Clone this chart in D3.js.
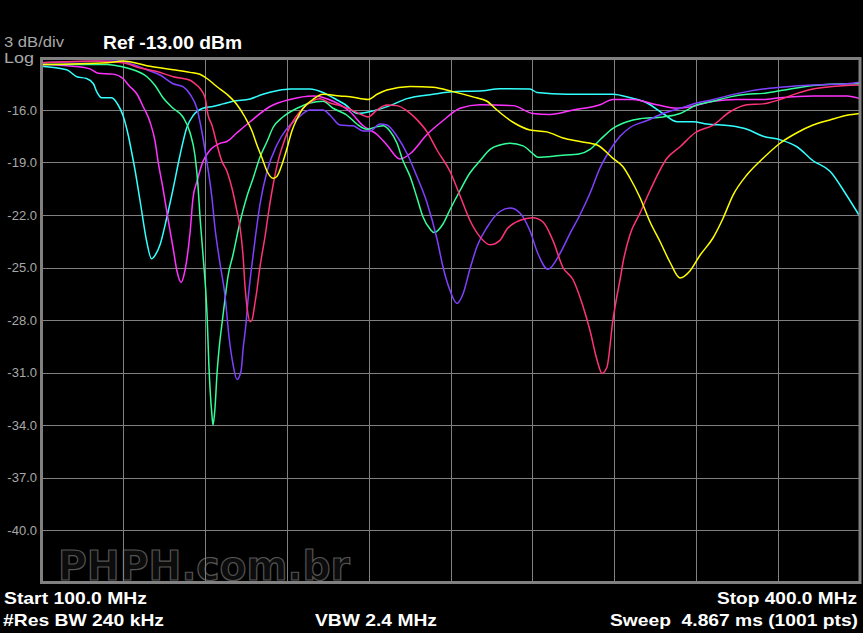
<!DOCTYPE html>
<html><head><meta charset="utf-8">
<script src="https://cdn.jsdelivr.net/npm/d3@7"></script>
<style>html,body{margin:0;padding:0;background:#000;overflow:hidden}</style>
</head><body><svg id="chart" width="863" height="633"></svg>
<script>
// ---- data ----
const freqStart = 100, freqStop = 400;          // MHz
const refLevel = -13, dbPerDiv = 3, nDiv = 10;  // dBm
const yTickValues = [-16, -19, -22, -25, -28, -31, -34, -37, -40];
const yTickLabels = ["-16.0", "-19.0", "-22.0", "-25.0", "-28.0", "-31.0", "-34.0", "-37.0", "-40.0"];
const headerTexts = ["3 dB/div", "Log", "Ref -13.00 dBm"];
const footerTexts = ["Start 100.0 MHz", "Stop 400.0 MHz", "#Res BW 240 kHz", "VBW 2.4 MHz", "Sweep  4.867 ms (1001 pts)"];
const watermark = "PHPH.com.br";

const seriesColors = ["#33ffff", "#ff33ff", "#33ff99", "#8040ff", "#ff3377", "#ffff00"];

const cyanTrace = [[100,-13.5],[109.4,-13.7],[113.1,-14.1],[116.7,-14.2],[119.2,-14.5],[120.4,-14.95],[122.2,-15.3],[125.9,-15.3],[128.2,-15.7],[130.0,-16.3],[131.9,-17.4],[133.2,-18.4],[134.4,-19.4],[136.3,-21.2],[138.7,-23.5],[140.5,-24.5],[141.8,-24.3],[143.6,-23.7],[146.0,-22.2],[148.4,-20.5],[150.9,-18.6],[153.4,-17.0],[155.8,-16.3],[159.3,-15.9],[163.0,-15.8],[166.7,-15.65],[170.3,-15.5],[176.6,-15.37],[181.3,-15.1],[186.4,-14.9],[191.2,-14.8],[198.5,-14.8],[203.3,-15.0],[207.0,-15.3],[211.5,-15.7],[215.8,-16.2],[221.6,-16.05],[227.8,-15.75],[234.1,-15.35],[243.6,-15.1],[249.8,-14.97],[261.9,-14.9],[268.1,-14.78],[279.1,-14.8],[281.7,-15.0],[292.7,-15.1],[304.8,-15.1],[309.5,-15.1],[315.8,-15.3],[322.0,-15.6],[327.8,-16.2],[333.0,-16.67],[338.8,-16.67],[343.9,-16.8],[352.4,-16.9],[358.6,-17.1],[364.5,-17.5],[370.7,-17.7],[376.9,-18.1],[382.8,-18.9],[389.0,-19.5],[395.2,-20.9],[400,-22.1]];

const magentaTrace = [[100,-13.4],[111.7,-13.5],[117.9,-13.65],[120.9,-13.9],[126.4,-13.95],[130.0,-14.2],[132.6,-14.67],[135.2,-15.1],[137.4,-15.8],[139.9,-16.67],[141.8,-17.8],[142.9,-18.95],[144.7,-20.5],[146.5,-22.2],[148.4,-23.9],[149.8,-25.2],[151.3,-25.85],[152.7,-25.2],[154.6,-23.0],[155.7,-21.0],[157.1,-20.1],[159.3,-18.95],[161.9,-18.3],[165.6,-17.9],[168.1,-17.8],[171.8,-17.3],[176.6,-16.67],[183.9,-15.8],[191.2,-15.4],[199.6,-15.2],[207.0,-15.5],[213.2,-16.1],[218.0,-16.9],[223.1,-17.4],[226.7,-18.0],[231.5,-18.8],[235.2,-18.5],[241.4,-17.4],[247.3,-16.6],[253.5,-15.9],[260.8,-15.7],[272.9,-15.75],[280.2,-16.2],[286.4,-16.25],[294.9,-16.0],[304.8,-15.7],[309.5,-15.4],[316.8,-15.4],[325.6,-15.7],[333.0,-15.9],[336.6,-15.85],[346.2,-15.5],[354.9,-15.4],[364.5,-15.4],[370.7,-15.3],[382.8,-15.2],[395.2,-15.2],[400,-15.35]];

const greenTrace = [[100,-13.4],[111.7,-13.4],[124.2,-13.4],[128.9,-13.5],[133.7,-13.7],[138.8,-14.1],[141.8,-14.6],[144.7,-15.3],[148.4,-15.9],[152.0,-16.4],[154.6,-17.3],[156.4,-18.6],[157.5,-20.3],[158.2,-22.0],[159.3,-24.2],[160.8,-27.6],[161.5,-30.6],[162.6,-33.4],[163.0,-34.0],[163.7,-33.1],[164.5,-31.0],[165.2,-29.7],[166.3,-28.2],[167.4,-26.8],[168.5,-25.5],[170.3,-24.3],[172.9,-22.4],[175.5,-20.9],[177.7,-19.9],[180.2,-18.7],[182.8,-17.8],[185.0,-17.0],[188.6,-16.4],[193.8,-15.9],[198.5,-15.6],[203.3,-15.5],[207.0,-15.9],[212.1,-16.3],[215.7,-16.8],[219.4,-17.1],[223.1,-16.95],[225.3,-16.9],[227.8,-17.2],[230.4,-17.9],[232.6,-18.9],[235.2,-19.8],[237.7,-21.0],[239.9,-22.1],[242.5,-22.8],[244.0,-23.0],[247.3,-22.5],[249.8,-21.7],[253.5,-20.6],[257.1,-19.6],[260.8,-18.9],[264.5,-18.25],[268.1,-18.0],[271.8,-17.9],[276.6,-18.05],[280.2,-18.5],[282.0,-18.7],[290.1,-18.6],[297.4,-18.5],[301.1,-18.25],[304.8,-17.7],[309.5,-17.05],[314.7,-16.67],[319.4,-16.5],[327.8,-16.4],[334.1,-16.2],[340.3,-15.7],[346.2,-15.5],[352.4,-15.25],[358.6,-15.1],[364.5,-15.05],[370.7,-14.9],[382.8,-14.6],[395.2,-14.5],[400,-14.5]];

const purpleTrace = [[100,-13.3],[128.9,-13.2],[133.7,-13.4],[138.8,-13.7],[143.6,-14.0],[148.4,-14.5],[152.0,-14.67],[154.6,-15.1],[157.1,-15.9],[159.0,-17.3],[160.8,-19.0],[162.6,-21.0],[163.7,-22.7],[165.6,-24.8],[167.4,-26.6],[168.9,-29.0],[170.3,-30.5],[171.8,-31.4],[173.3,-30.9],[174.0,-29.7],[175.1,-28.2],[175.8,-26.9],[176.9,-25.3],[177.7,-24.3],[180.2,-21.4],[182.8,-19.5],[186.4,-18.0],[190.1,-17.05],[193.8,-16.5],[198.5,-16.0],[203.3,-16.0],[205.9,-16.3],[209.5,-16.86],[214.3,-16.9],[218.0,-17.2],[220.5,-17.2],[224.2,-16.8],[226.7,-16.86],[230.4,-17.5],[234.1,-18.5],[237.7,-19.8],[241.4,-21.3],[245.1,-23.4],[247.3,-25.0],[249.8,-26.3],[252.4,-27.05],[254.6,-26.5],[257.1,-25.1],[259.7,-23.8],[263.4,-22.7],[268.1,-21.8],[271.8,-21.6],[275.5,-21.9],[279.1,-22.9],[282.0,-24.2],[285.7,-25.1],[290.1,-24.2],[293.8,-23.05],[297.4,-22.0],[301.1,-20.76],[304.8,-19.3],[308.4,-18.3],[312.1,-17.5],[315.8,-17.0],[322.0,-16.6],[327.8,-16.2],[334.1,-15.9],[340.3,-15.6],[346.2,-15.4],[352.4,-15.15],[358.6,-14.95],[364.5,-14.8],[370.7,-14.7],[382.8,-14.57],[395.2,-14.5],[400,-14.4]];

const redTrace = [[100,-13.3],[120.5,-13.2],[130.0,-13.3],[136.3,-13.6],[142.5,-13.8],[148.4,-14.1],[154.6,-14.3],[156.4,-14.5],[158.2,-14.76],[160.1,-15.3],[161.2,-16.3],[162.6,-16.86],[164.5,-18.0],[166.3,-18.95],[168.1,-19.5],[170.0,-20.5],[171.8,-21.8],[172.9,-22.7],[174.0,-24.3],[174.7,-26.0],[175.5,-27.3],[176.6,-28.1],[177.3,-28.0],[178.4,-27.0],[179.1,-26.3],[179.9,-25.3],[181.0,-24.2],[182.1,-23.2],[183.2,-22.0],[185.0,-20.3],[186.8,-18.95],[188.6,-18.0],[191.2,-16.95],[193.8,-16.3],[197.4,-15.7],[202.2,-15.35],[205.9,-15.6],[209.5,-15.75],[213.2,-15.95],[217.9,-16.3],[219.8,-16.4],[223.1,-16.0],[226.7,-15.72],[230.4,-15.75],[234.1,-16.05],[237.7,-16.55],[241.4,-17.25],[245.1,-18.3],[249.8,-19.5],[253.5,-20.9],[257.1,-22.3],[260.8,-23.25],[264.5,-23.7],[268.1,-23.45],[270.7,-22.8],[275.5,-22.3],[280.2,-22.15],[283.9,-22.4],[287.5,-23.45],[291.2,-25.0],[294.9,-25.7],[298.5,-27.2],[301.1,-28.6],[303.7,-30.3],[305.5,-31.05],[307.3,-30.7],[309.5,-28.0],[311.0,-26.6],[312.1,-25.7],[313.2,-24.7],[315.8,-23.1],[319.4,-21.9],[323.1,-20.6],[329.3,-18.76],[334.1,-18.1],[339.6,-17.3],[346.2,-16.86],[352.4,-16.1],[358.6,-15.7],[364.5,-15.65],[370.7,-15.4],[376.9,-15.05],[382.8,-14.8],[389.0,-14.67],[400,-14.57]];

const yellowTrace = [[100,-13.4],[124.2,-13.3],[130.0,-13.2],[139.9,-13.5],[148.4,-13.7],[154.6,-13.85],[158.2,-13.96],[160.8,-14.2],[164.5,-14.67],[168.1,-15.1],[171.8,-15.7],[174.7,-16.4],[177.3,-17.2],[179.1,-18.0],[181.0,-18.76],[182.8,-19.5],[185.0,-19.9],[186.4,-19.8],[188.3,-19.1],[190.1,-18.2],[191.9,-17.2],[193.8,-16.5],[196.0,-15.9],[199.6,-15.4],[203.3,-15.1],[209.5,-15.2],[213.2,-15.24],[219.8,-15.4],[223.1,-15.1],[226.7,-14.86],[235.2,-14.65],[243.6,-14.7],[250.9,-14.95],[258.2,-15.25],[263.4,-15.5],[267.0,-16.0],[272.9,-16.7],[279.1,-17.14],[285.3,-17.25],[291.2,-17.6],[297.4,-17.8],[303.7,-18.0],[309.5,-18.76],[313.2,-19.24],[315.8,-19.9],[319.4,-21.0],[323.1,-22.4],[326.7,-23.5],[330.4,-24.7],[334.1,-25.6],[337.7,-25.2],[341.4,-24.3],[346.2,-23.3],[349.8,-22.2],[353.5,-20.86],[358.6,-19.7],[364.5,-18.76],[370.7,-17.9],[376.9,-17.3],[382.8,-16.86],[389.0,-16.57],[395.2,-16.3],[400,-16.2]];

const traces = [cyanTrace, magentaTrace, greenTrace, purpleTrace, redTrace, yellowTrace];

// ---- drawing ----
const svg = d3.select("#chart");
svg.append("rect").attr("width", 863).attr("height", 633).attr("fill", "#000");

const plot = {left: 41, right: 860, top: 57.5, bottom: 582.5};
const x = d3.scaleLinear().domain([freqStart, freqStop]).range([plot.left, plot.right]);
const y = d3.scaleLinear().domain([refLevel - dbPerDiv * nDiv, refLevel]).range([plot.bottom, plot.top]);

const gridColor = "#808080";
const xGrid = d3.range(1, nDiv).map(i => freqStart + i * (freqStop - freqStart) / nDiv);
const yGrid = d3.range(1, nDiv).map(i => refLevel - i * dbPerDiv);

// watermark (embossed look)
const wm = svg.append("g");
wm.append("text").attr("x", 58).attr("y", 580).text(watermark)
  .attr("font-family", "DejaVu Sans").attr("font-weight", "bold").attr("font-size", 40)
  .attr("textLength", 292).attr("lengthAdjust", "spacingAndGlyphs")
  .attr("fill", "#0c0c0c").attr("stroke", "#555").attr("stroke-width", 1.2);

const grid = svg.append("g");
grid.selectAll("line.v").data(xGrid).join("line").attr("class", "v")
  .attr("x1", d => Math.round(x(d)) + 0.5).attr("x2", d => Math.round(x(d)) + 0.5)
  .attr("y1", plot.top).attr("y2", plot.bottom)
  .attr("stroke", gridColor).attr("stroke-width", 1);
grid.selectAll("line.h").data(yGrid).join("line").attr("class", "h")
  .attr("x1", plot.left).attr("x2", plot.right)
  .attr("y1", d => Math.round(y(d)) + 0.5).attr("y2", d => Math.round(y(d)) + 0.5)
  .attr("stroke", gridColor).attr("stroke-width", 1);

// y tick labels
svg.append("g").selectAll("text").data(yTickValues).join("text")
  .attr("x", 37).attr("y", d => y(d) + 4.5)
  .attr("text-anchor", "end").attr("fill", "#a8a8a8")
  .attr("font-family", "Liberation Sans, Arial, sans-serif").attr("font-size", 13)
  .text((d, i) => yTickLabels[i]);

// traces
const line = d3.line().x(d => x(d[0])).y(d => y(d[1])).curve(d3.curveMonotoneX);
svg.append("g").selectAll("path").data(traces).join("path")
  .attr("d", line).attr("fill", "none")
  .attr("stroke", (d, i) => seriesColors[i]).attr("stroke-width", 1.5)
  .attr("stroke-linejoin", "round");

// frame
svg.append("rect").attr("x", 41.5).attr("y", 58.5).attr("width", 818.5).attr("height", 524)
  .attr("fill", "none").attr("stroke", gridColor).attr("stroke-width", 3);

// header
const font = "Liberation Sans, Arial, sans-serif";
svg.append("text").attr("x", 4).attr("y", 46.5).text(headerTexts[0])
  .attr("font-family", font).attr("font-size", 14).attr("fill", "#a8a8a8")
  .attr("textLength", 60).attr("lengthAdjust", "spacingAndGlyphs");
svg.append("text").attr("x", 4).attr("y", 63).text(headerTexts[1])
  .attr("font-family", font).attr("font-size", 14.5).attr("fill", "#a8a8a8")
  .attr("textLength", 30).attr("lengthAdjust", "spacingAndGlyphs");
svg.append("text").attr("x", 103).attr("y", 48.5).text(headerTexts[2])
  .attr("font-family", font).attr("font-size", 18.5).attr("font-weight", "bold").attr("fill", "#fff")
  .attr("textLength", 139).attr("lengthAdjust", "spacingAndGlyphs");

// footer
const foot = [
  {t: footerTexts[0], x: 4, y: 604, a: "start", w: 143},
  {t: footerTexts[1], x: 857, y: 604, a: "end", w: 140},
  {t: footerTexts[2], x: 3, y: 626, a: "start", w: 161},
  {t: footerTexts[3], x: 315, y: 626, a: "start", w: 122},
  {t: footerTexts[4], x: 858, y: 626, a: "end", w: 248}
];
svg.append("g").selectAll("text").data(foot).join("text")
  .attr("x", d => d.x).attr("y", d => d.y).attr("text-anchor", d => d.a)
  .attr("font-family", font).attr("font-size", 17).attr("font-weight", "bold").attr("fill", "#fff")
  .attr("textLength", d => d.w).attr("lengthAdjust", "spacingAndGlyphs")
  .attr("xml:space", "preserve").style("white-space", "pre")
  .text(d => d.t);
</script>
</body></html>
